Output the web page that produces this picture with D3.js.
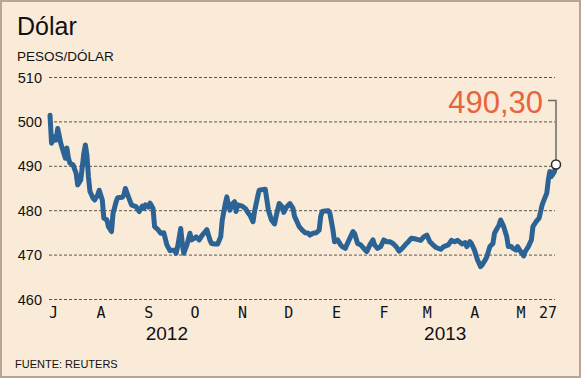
<meta charset="utf-8">
<script src="https://d3js.org/d3.v7.min.js"></script>
<style>
    body { margin: 0; background: #fff; }
    svg text { font-family: "Liberation Sans", Arial, sans-serif; }
</style>
<svg width="581" height="378"></svg>
<script>
    var dates = [
        "2012-07-02","2012-07-03","2012-07-05","2012-07-06","2012-07-07","2012-07-09","2012-07-11","2012-07-12",
        "2012-07-13","2012-07-14","2012-07-15","2012-07-17","2012-07-19","2012-07-20","2012-07-22","2012-07-24",
        "2012-07-25","2012-07-26","2012-07-27","2012-07-28","2012-07-30","2012-07-31","2012-08-02","2012-08-03",
        "2012-08-05","2012-08-06","2012-08-08","2012-08-09","2012-08-11","2012-08-12","2012-08-14","2012-08-15",
        "2012-08-18","2012-08-19","2012-08-20","2012-08-22","2012-08-24","2012-08-26","2012-08-27","2012-08-29",
        "2012-08-31","2012-09-01","2012-09-02","2012-09-04","2012-09-05","2012-09-07","2012-09-08","2012-09-10",
        "2012-09-12","2012-09-14","2012-09-16","2012-09-18","2012-09-19","2012-09-21","2012-09-22","2012-09-23",
        "2012-09-25","2012-09-26","2012-09-27","2012-09-29","2012-10-01","2012-10-02","2012-10-04","2012-10-05",
        "2012-10-07","2012-10-09","2012-10-11","2012-10-12","2012-10-14","2012-10-15","2012-10-17","2012-10-19",
        "2012-10-21","2012-10-22","2012-10-24","2012-10-25","2012-10-26","2012-10-27","2012-10-28","2012-10-30",
        "2012-10-31","2012-11-01","2012-11-04","2012-11-06","2012-11-08","2012-11-09","2012-11-11","2012-11-12",
        "2012-11-14","2012-11-15","2012-11-18","2012-11-19","2012-11-21","2012-11-23","2012-11-25","2012-11-26",
        "2012-11-28","2012-11-30","2012-12-01","2012-12-03","2012-12-05","2012-12-07","2012-12-08","2012-12-10",
        "2012-12-11","2012-12-13","2012-12-15","2012-12-17","2012-12-18","2012-12-20","2012-12-22","2012-12-24",
        "2012-12-25","2012-12-26","2012-12-28","2012-12-30","2012-12-31","2013-01-02","2013-01-03","2013-01-05",
        "2013-01-07","2013-01-08","2013-01-10","2013-01-11","2013-01-13","2013-01-15","2013-01-16","2013-01-18",
        "2013-01-20","2013-01-21","2013-01-23","2013-01-24","2013-01-26","2013-01-28","2013-01-29","2013-01-31",
        "2013-02-02","2013-02-04","2013-02-06","2013-02-08","2013-02-10","2013-02-12","2013-02-14","2013-02-16",
        "2013-02-18","2013-02-20","2013-02-22","2013-02-25","2013-02-28","2013-03-02","2013-03-04","2013-03-06",
        "2013-03-08","2013-03-10","2013-03-13","2013-03-15","2013-03-18","2013-03-20","2013-03-22","2013-03-24",
        "2013-03-27","2013-03-29","2013-03-30","2013-04-01","2013-04-02","2013-04-04","2013-04-06","2013-04-08",
        "2013-04-09","2013-04-11","2013-04-12","2013-04-14","2013-04-16","2013-04-17","2013-04-20","2013-04-21",
        "2013-04-23","2013-04-25","2013-04-26","2013-04-28","2013-04-29","2013-05-01","2013-05-02","2013-05-04",
        "2013-05-06","2013-05-07","2013-05-09","2013-05-11","2013-05-12","2013-05-14","2013-05-16","2013-05-17",
        "2013-05-18","2013-05-20","2013-05-21","2013-05-22","2013-05-23","2013-05-24","2013-05-26","2013-05-27"
    ];
    var values = [
        501.4,495.1,496.6,495.8,498.4,495.1,492.8,491.7,
        494.0,491.7,490.6,490.2,488.3,485.7,486.8,492.8,
        494.7,492.4,487.5,484.2,482.7,482.3,483.4,484.5,
        482.3,478.2,477.8,476.3,475.2,479.3,481.9,482.8,
        482.9,483.4,484.9,483.0,481.2,480.9,480.8,479.7,
        480.9,480.4,481.2,480.7,481.6,480.4,476.3,475.7,
        474.8,474.9,472.2,470.9,471.0,471.0,470.3,471.8,
        475.9,472.5,470.3,472.2,474.8,473.3,473.7,474.0,
        473.3,474.4,475.2,475.6,473.3,472.5,472.4,472.4,
        474.0,477.8,481.5,483.0,481.2,480.0,481.2,481.9,
        479.7,481.2,480.9,480.4,479.3,478.9,477.4,479.7,
        483.0,484.5,484.7,484.7,480.0,477.8,476.9,478.6,
        481.5,480.8,479.5,480.8,481.5,480.4,478.6,477.1,
        476.3,475.5,474.9,474.8,474.4,474.8,474.9,475.5,
        478.6,479.7,479.8,479.9,479.3,475.5,472.9,473.3,
        472.2,471.8,471.4,472.2,473.7,475.2,474.8,472.5,
        472.2,471.8,471.0,470.7,472.2,473.3,472.2,471.4,
        471.8,473.3,472.9,472.9,472.5,471.8,470.8,471.4,
        472.2,472.9,473.7,473.5,473.2,474.0,474.4,472.9,
        472.2,471.6,471.2,471.8,472.2,473.2,472.9,473.2,
        472.4,472.7,471.8,472.9,472.5,471.0,468.8,467.3,
        467.7,468.8,469.5,471.8,472.5,474.8,476.7,477.8,
        476.3,474.0,471.8,471.8,471.4,471.0,471.8,470.7,
        469.7,470.7,471.8,473.3,476.3,477.4,478.2,479.7,
        481.2,483.0,483.8,486.8,488.7,487.6,488.7,490.3
    ];
    var yTicks = [460, 470, 480, 490, 500, 510];
    var monthStarts = ["2012-07-01","2012-08-01","2012-09-01","2012-10-01","2012-11-01","2012-12-01",
                       "2013-01-01","2013-02-01","2013-03-01","2013-04-01","2013-05-01"];
    var monthLabels = ["J","A","S","O","N","D","E","F","M","A","M"];
    var yearAnchors = ["2012-09-16","2013-03-16"];
    var yearLabels = ["2012","2013"];
    var lastLabel = "490,30";

    var parse = d3.timeParse("%Y-%m-%d");
    var data = dates.map(function(d, i) { return {date: parse(d), value: values[i]}; });

    var svg = d3.select("svg");

    svg.append("rect")
        .attr("x", 1).attr("y", 1)
        .attr("width", 579).attr("height", 376)
        .attr("fill", "#f9ebd8")
        .attr("stroke", "#b6a693")
        .attr("stroke-width", 2);

    var x = d3.scaleTime()
        .domain([data[0].date, data[data.length - 1].date])
        .range([50, 556]);

    var y = d3.scaleLinear()
        .domain([460, 510])
        .range([299, 77]);

    // gridlines + y labels
    var grid = svg.append("g");
    grid.selectAll("line")
        .data(yTicks)
        .enter().append("line")
        .attr("x1", 49)
        .attr("x2", 555)
        .attr("y1", function(d) { return y(d) + 0.5; })
        .attr("y2", function(d) { return y(d) + 0.5; })
        .attr("stroke", "#5a544c")
        .attr("stroke-width", 1)
        .attr("stroke-dasharray", "3,2");

    grid.selectAll("text")
        .data(yTicks)
        .enter().append("text")
        .attr("x", 42)
        .attr("y", function(d) { return y(d) + 5.5; })
        .attr("text-anchor", "end")
        .attr("font-size", "14.5px")
        .attr("fill", "#111")
        .text(function(d) { return d; });

    // month labels
    svg.append("g").selectAll("text")
        .data(monthStarts)
        .enter().append("text")
        .attr("x", function(d) { return x(parse(d)) + 5; })
        .attr("y", 318)
        .attr("text-anchor", "middle")
        .style("font-family", "'DejaVu Sans Mono', monospace")
        .attr("font-size", "15px")
        .attr("fill", "#111")
        .text(function(d, i) { return monthLabels[i]; });

    svg.append("text")
        .attr("x", x(data[data.length - 1].date) + 1)
        .attr("y", 318)
        .attr("text-anchor", "end")
        .style("font-family", "'DejaVu Sans Mono', monospace")
        .attr("font-size", "15px")
        .attr("fill", "#111")
        .text("27");

    svg.append("g").selectAll("text")
        .data(yearAnchors)
        .enter().append("text")
        .attr("x", function(d) { return x(parse(d)); })
        .attr("y", 340)
        .attr("text-anchor", "middle")
        .attr("font-size", "19px")
        .attr("fill", "#111")
        .text(function(d, i) { return yearLabels[i]; });

    // the line
    var line = d3.line()
        .x(function(d) { return x(d.date); })
        .y(function(d) { return y(d.value); });

    svg.append("path")
        .datum(data)
        .attr("fill", "none")
        .attr("stroke", "#2c6395")
        .attr("stroke-width", 5)
        .attr("stroke-linejoin", "round")
        .attr("stroke-linecap", "round")
        .attr("d", line);

    // callout for last value
    var last = data[data.length - 1];
    var lx = x(last.date), ly = y(last.value);

    svg.append("path")
        .attr("d", "M" + (lx - 8) + "," + 100.5 + "H" + lx + "V" + (ly - 4))
        .attr("fill", "none")
        .attr("stroke", "#6e6a66")
        .attr("stroke-width", 1.5);

    svg.append("circle")
        .attr("cx", lx)
        .attr("cy", ly)
        .attr("r", 4.5)
        .attr("fill", "#fff")
        .attr("stroke", "#2a2a2a")
        .attr("stroke-width", 1.5);

    svg.append("text")
        .attr("x", lx - 13)
        .attr("y", 112.5)
        .attr("text-anchor", "end")
        .attr("font-size", "31px")
        .attr("fill", "#e8643c")
        .text(lastLabel);

    // titles
    svg.append("text")
        .attr("x", 17).attr("y", 35)
        .attr("font-size", "25px")
        .attr("fill", "#111")
        .text("Dólar");

    svg.append("text")
        .attr("x", 17).attr("y", 61)
        .attr("font-size", "13.5px")
        .attr("fill", "#111")
        .text("PESOS/DÓLAR");

    svg.append("text")
        .attr("x", 15).attr("y", 368)
        .attr("font-size", "11px")
        .attr("fill", "#111")
        .text("FUENTE: REUTERS");
</script>
